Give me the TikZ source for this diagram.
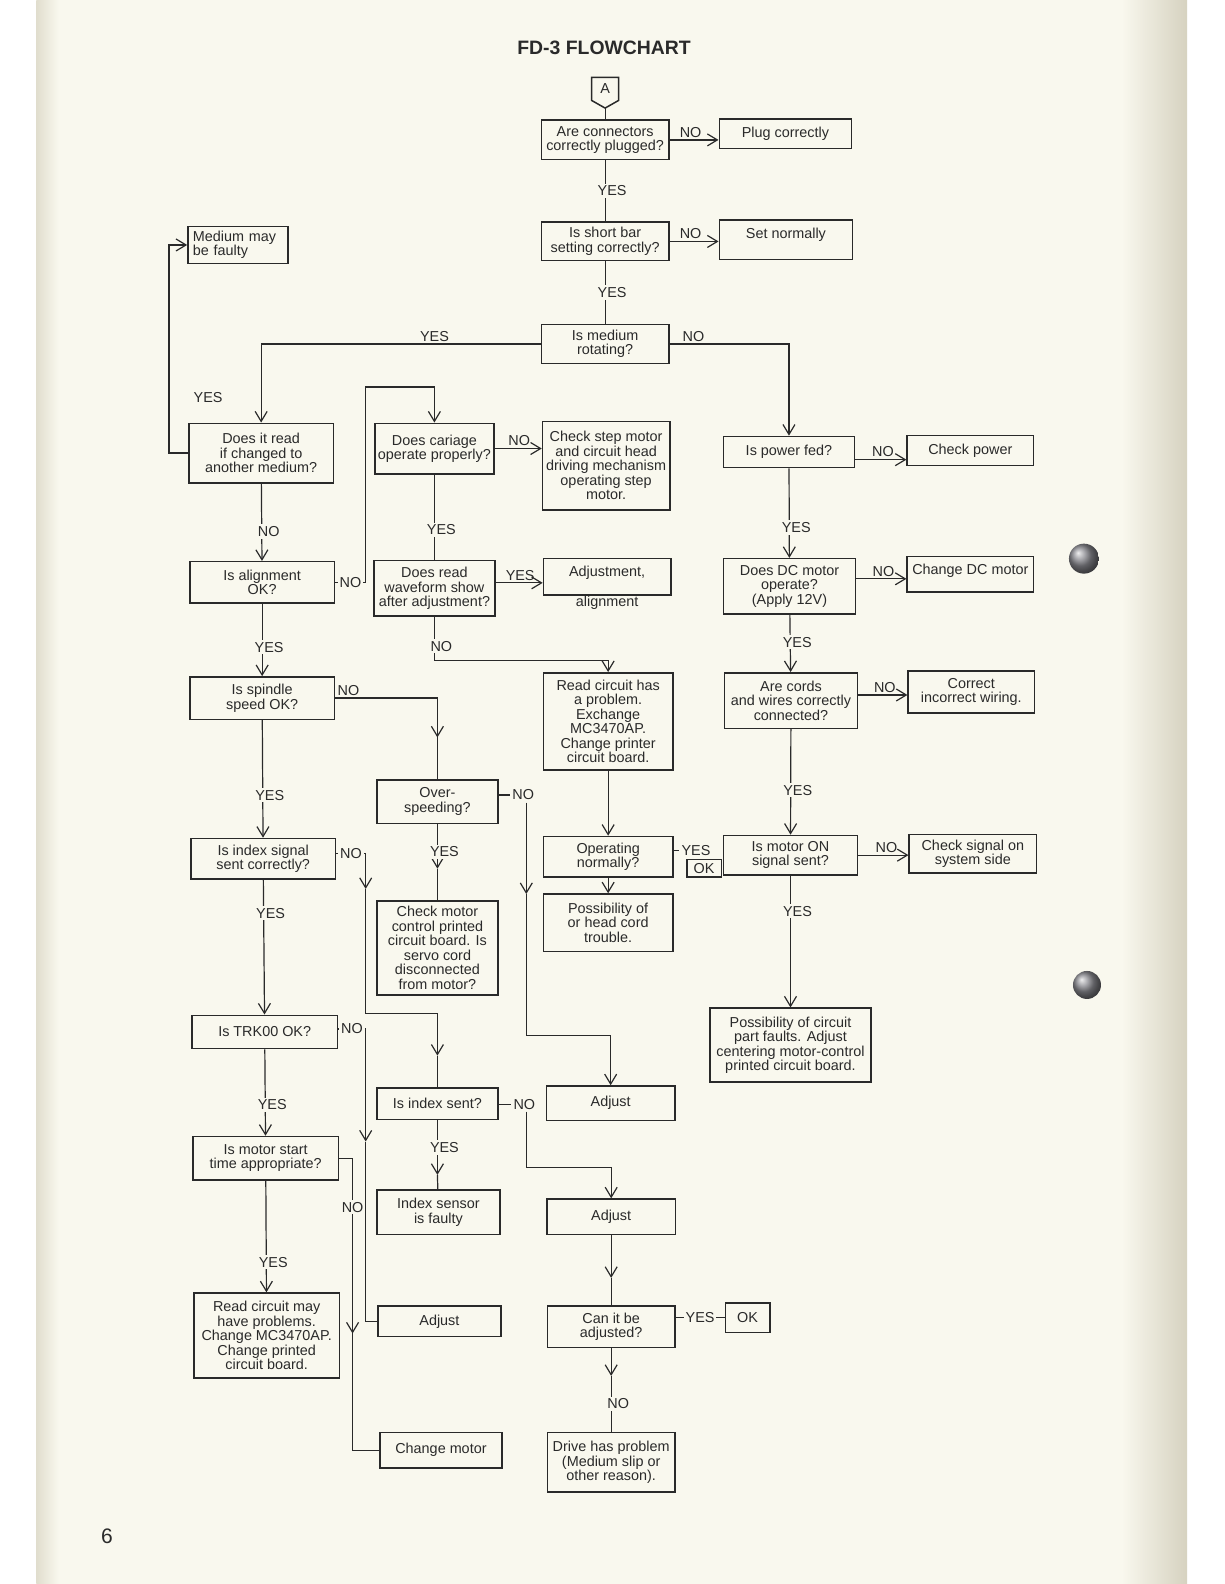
\documentclass[tikz,border=0pt]{standalone}
\usepackage{fontspec}
\setmainfont{Liberation Sans}
\usepackage{xcolor}
\definecolor{paper}{HTML}{F9F8EE}
\definecolor{edge}{HTML}{D6D2C0}
\definecolor{ink}{HTML}{2A2A2A}
\definecolor{hole}{HTML}{8A8A90}
\usepackage{tikz}
\usetikzlibrary{arrows.meta}
\newcommand{\boxfont}{\fontsize{7.2}{7.25}\selectfont}
\tikzset{
  >={Straight Barb[length=5pt,width=6pt]},
  box/.style    ={draw=ink,line width=0.75pt,font=\boxfont,text=ink,
                  align=center,inner sep=1pt},
  sz/.style 2 args={minimum width=#1*0.505pt,minimum height=#2*0.505pt},
  lift/.style   ={text depth=#1},
  lbl/.style    ={font=\boxfont,text=ink,inner sep=1pt},
  brk/.style    ={lbl,fill=paper,xshift=3.5pt},
  brkh/.style   ={lbl,fill=paper},
  flow/.style   ={->,draw=ink,line width=0.6pt},
  wire/.style   ={draw=ink,line width=0.6pt},
}
\begin{document}
\begin{tikzpicture}[x=0.505pt,y=-0.505pt]
\useasboundingbox (0,0) rectangle (1212,1568);
%---------------- page
\fill[white] (0,0) rectangle (1212,1568);
\fill[paper] (36,0) rectangle (1175,1568);
\shade[left color=edge!70!paper,right color=paper] (36,0) rectangle (58,1568);
\shade[left color=paper,right color=edge] (1110,0) rectangle (1175,1568);
\shade[ball color=hole] (1073,553) circle (7.5pt);
\shade[ball color=hole] (1076,975) circle (7pt);
\node[font=\bfseries\fontsize{9.7}{11}\selectfont,text=ink] (title) at (598,47) {FD-3 FLOWCHART};
\node[font=\fontsize{10.5}{12}\selectfont,text=ink] (pg) at (106,1521) {6};
%---------------- top chain
\node[lbl,sz={26}{22}] (A) at (599,88) {A};
\coordinate (Atip) at (599,107);
\draw[draw=ink,line width=0.75pt] (A.north west) -- (A.north east) -- (A.south east) -- (Atip) -- (A.south west) -- cycle;
\node[box,sz={126}{39}] (conn) at (599,138.5) {Are connectors\\correctly plugged?};
\node[box,sz={131}{29}] (plug) at (777.5,132.5) {Plug correctly};
\node[box,sz={126}{38}] (bar) at (599,239) {Is short bar\\setting correctly?};
\node[box,sz={132}{39},lift=7.1pt] (setn) at (778,237.5) {Set normally};
\node[box,sz={126}{39}] (rot) at (599,340.5) {Is medium\\rotating?};
\draw[wire] (Atip) -- (conn);
\draw[flow] (conn.east) -- node[lbl,above,pos=.43]{NO} (conn.east -| plug.west);
\draw[wire] (conn) -- node[brk]{YES} (bar);
\draw[flow] (bar.east) -- node[lbl,above,pos=.43]{NO} (bar.east -| setn.west);
\draw[wire] (bar) -- node[brk]{YES} (rot);
%---------------- left column
\node[box,sz={99}{37},align=left,text width=45pt,inner xsep=2.5pt] (medium) at (235.5,242.5) {Medium may\\be faulty};
\node[box,sz={143}{59}] (read) at (258.5,448.5) {Does it read\\if changed to\\another medium?};
\node[box,sz={143}{41}] (align) at (259.5,576.5) {Is alignment\\OK?};
\node[box,sz={143}{42}] (spin) at (259.5,691) {Is spindle\\speed OK?};
\node[box,sz={143}{40}] (index) at (260.5,850) {Is index signal\\sent correctly?};
\node[box,sz={144}{33}] (trk) at (262,1021.5) {Is TRK00 OK?};
\node[box,sz={144}{43}] (mstart) at (263,1146.5) {Is motor start\\time appropriate?};
\node[box,sz={144}{84}] (rdmay) at (264,1322) {Read circuit may\\have problems.\\Change MC3470AP.\\Change printed\\circuit board.};
\draw[flow] (rot.west) -| node[lbl,above,pos=.19]{YES} (read.north);
\draw[flow] (read.west) -- ++(-19,0) |- (medium.west);
\node[lbl] (yread) at (206,394) {YES};
\draw[flow] (read) -- node[brk,pos=.62]{NO} (align);
\draw[flow] (align) -- node[brk,pos=.6]{YES} (spin);
\draw[flow] (spin) -- node[brk,pos=.64]{YES} (index);
\draw[flow] (index) -- node[brk,pos=.25]{YES} (trk);
\draw[flow] (trk) -- node[brk,pos=.64]{YES} (mstart);
\draw[flow] (mstart) -- node[brk,pos=.73]{YES} (rdmay);
%---------------- middle column
\node[box,sz={118}{50}] (carr) at (430,444) {Does cariage\\operate properly?};
\node[box,sz={120}{55}] (wave) at (430,582.5) {Does read\\waveform show\\after adjustment?};
\node[box,sz={120}{43}] (over) at (433,793.5) {Over-\\speeding?};
\node[box,sz={120}{93}] (chkmot) at (433,938.5) {Check motor\\control printed\\circuit board. Is\\servo cord\\disconnected\\from motor?};
\node[box,sz={120}{31}] (isent) at (433,1092.5) {Is index sent?};
\node[box,sz={122}{44}] (sensor) at (434,1200) {Index sensor\\is faulty};
\node[box,sz={122}{30}] (adj3) at (435,1308) {Adjust};
\node[box,sz={121}{35}] (chgmot) at (436.5,1435.5) {Change motor};
\coordinate (m1) at (433,730);  \coordinate (m2) at (433,860);
\coordinate (m4) at (362,880);  \coordinate (m5) at (433,1045);
\coordinate (m6) at (362,1130); \coordinate (m7) at (349,1320);
\coordinate (m8) at (433,1163);
\draw[flow] (align.east) -| node[brkh,pos=.25]{NO} (362,383) -| (carr.north);
\draw[wire] (carr) -- node[brk,pos=.65]{YES} (wave);
\draw[flow] (spin.east) -| node[lbl,above right,pos=0]{NO} (m1); \draw[wire] (m1) -- (over);
\draw[flow] (over) -- node[brk,pos=.62]{YES} (m2); \draw[wire] (m2) -- (chkmot);
\draw[flow] ([yshift=2.5pt]index.east) -| node[brkh,pos=.25]{NO} (m4);
\draw[flow] (m4) -- ++(0,123) -| (m5); \draw[wire] (m5) -- (isent);
\draw[flow] ([yshift=1.5pt]trk.east) -| node[brkh,pos=.25]{NO} (m6);
\draw[wire] (m6) |- (adj3.west);
\draw[flow] (mstart.east) -| node[brkh,pos=.64]{NO} (m7);
\draw[wire] (m7) |- (chgmot.west);
\draw[flow] (isent) -- node[brk,pos=.5]{YES} (m8); \draw[wire] (m8) -- (sensor);
%---------------- right-middle column
\node[box,sz={126}{88}] (step) at (600,461) {Check step motor\\and circuit head\\driving mechanism\\operating step\\motor.};
\node[box,sz={126}{36},lift=5.5pt] (adjal) at (601,571) {Adjustment,};
\node[lbl] (adjal2) at (601,597) {alignment};
\node[box,sz={128}{96}] (rdprob) at (602,714) {Read circuit has\\a problem.\\Exchange\\MC3470AP.\\Change printer\\circuit board.};
\node[box,sz={128}{40}] (opnorm) at (602,848) {Operating\\normally?};
\node[box,sz={34}{17}] (okA) at (697,859.5) {OK};
\node[lbl] (yesA) at (689,842) {YES};
\node[box,sz={128}{57}] (posshead) at (602,913.5) {Possibility of\\or head cord\\trouble.};
\node[box,sz={127}{34}] (adj1) at (604.5,1092) {Adjust};
\node[box,sz={127}{35}] (adj2) at (605,1204.5) {Adjust};
\node[box,sz={126}{41}] (canadj) at (605,1313.5) {Can it be\\adjusted?};
\node[box,sz={44}{29}] (okB) at (740,1304.5) {OK};
\node[box,sz={126}{59}] (drive) at (605,1447.5) {Drive has problem\\(Medium slip or\\other reason).};
\node[lbl] (noC) at (518,787) {NO};
\node[lbl] (noE) at (519,1093) {NO};
\coordinate (m3) at (521,885); \coordinate (m9) at (605,1265); \coordinate (m10) at (605,1362);
\draw[flow] (carr.east) -- node[lbl,above,pos=.52]{NO} (carr.east -| step.west);
\draw[flow] ([yshift=2.8pt]wave.east) -- node[lbl,above,pos=.52]{YES} ([yshift=2.8pt]wave.east -| adjal.west);
\draw[flow] (wave.south) -- node[brk,pos=.67]{NO} ++(0,43) -| (rdprob.north);
\draw[flow] (rdprob) -- (opnorm);
\draw[wire] (yesA.west -| opnorm.east) -- (yesA.west);
\draw[flow] (opnorm) -- (posshead);
\draw[wire] (over.east |- noC.west) -- (noC.west);
\draw[flow] (noC.south -| m3) -- (m3); \draw[flow] (m3) -- ++(0,140) -| (adj1.north);
\draw[wire] (isent.east |- noE.west) -- (noE.west);
\draw[flow] (noE.south -| m3) -- ++(0,55) -| (adj2.north);
\draw[flow] (adj2) -- (m9); \draw[wire] (m9) -- (canadj);
\draw[wire] (canadj.east |- okB.west) -- node[brkh]{YES} (okB.west);
\draw[flow] (canadj) -- (m10); \draw[wire] (m10) -- node[brk,pos=.5]{NO} (drive);
%---------------- right column
\node[box,sz={130}{31}] (power) at (781,447.5) {Is power fed?};
\node[box,sz={125}{30}] (chkpow) at (960.5,446) {Check power};
\node[box,sz={131}{55}] (dcm) at (781.5,580.5) {Does DC motor\\operate?\\(Apply 12V)};
\node[box,sz={125}{35},lift=5.1pt] (chgdc) at (960.5,568.5) {Change DC motor};
\node[box,sz={132}{55}] (cords) at (783,693.5) {Are cords\\and wires correctly\\connected?};
\node[box,sz={125}{42}] (wiring) at (961.5,685) {Correct\\incorrect wiring.};
\node[box,sz={133}{39}] (mon) at (782.5,846.5) {Is motor ON\\signal sent?};
\node[box,sz={126}{38}] (chksig) at (963,845) {Check signal on\\system side};
\node[box,sz={159}{73}] (posscirc) at (782.5,1034.5) {Possibility of circuit\\part faults. Adjust\\centering motor-control\\printed circuit board.};
\draw[flow] (rot.east) -| node[lbl,above,pos=.1]{NO} (power.north);
\draw[flow] ([yshift=-3.8pt]power.east) -- node[lbl,above,pos=.54]{NO} ([yshift=-3.8pt]power.east -| chkpow.west);
\draw[flow] (power) -- node[brk,pos=.66]{YES} (dcm);
\draw[flow] ([yshift=3.8pt]dcm.east) -- node[lbl,above,pos=.54]{NO} ([yshift=3.8pt]dcm.east -| chgdc.west);
\draw[flow] (dcm) -- node[brk,pos=.48]{YES} (cords);
\draw[flow] ([yshift=2.8pt]cords.east) -- node[lbl,above,pos=.54]{NO} ([yshift=2.8pt]cords.east -| wiring.west);
\draw[flow] (cords) -- node[brk,pos=.58]{YES} (mon);
\draw[flow] (mon.east) -- node[lbl,above,pos=.56]{NO} (mon.east -| chksig.west);
\draw[flow] (mon) -- node[brk,pos=.27]{YES} (posscirc);
\end{tikzpicture}
\end{document}
